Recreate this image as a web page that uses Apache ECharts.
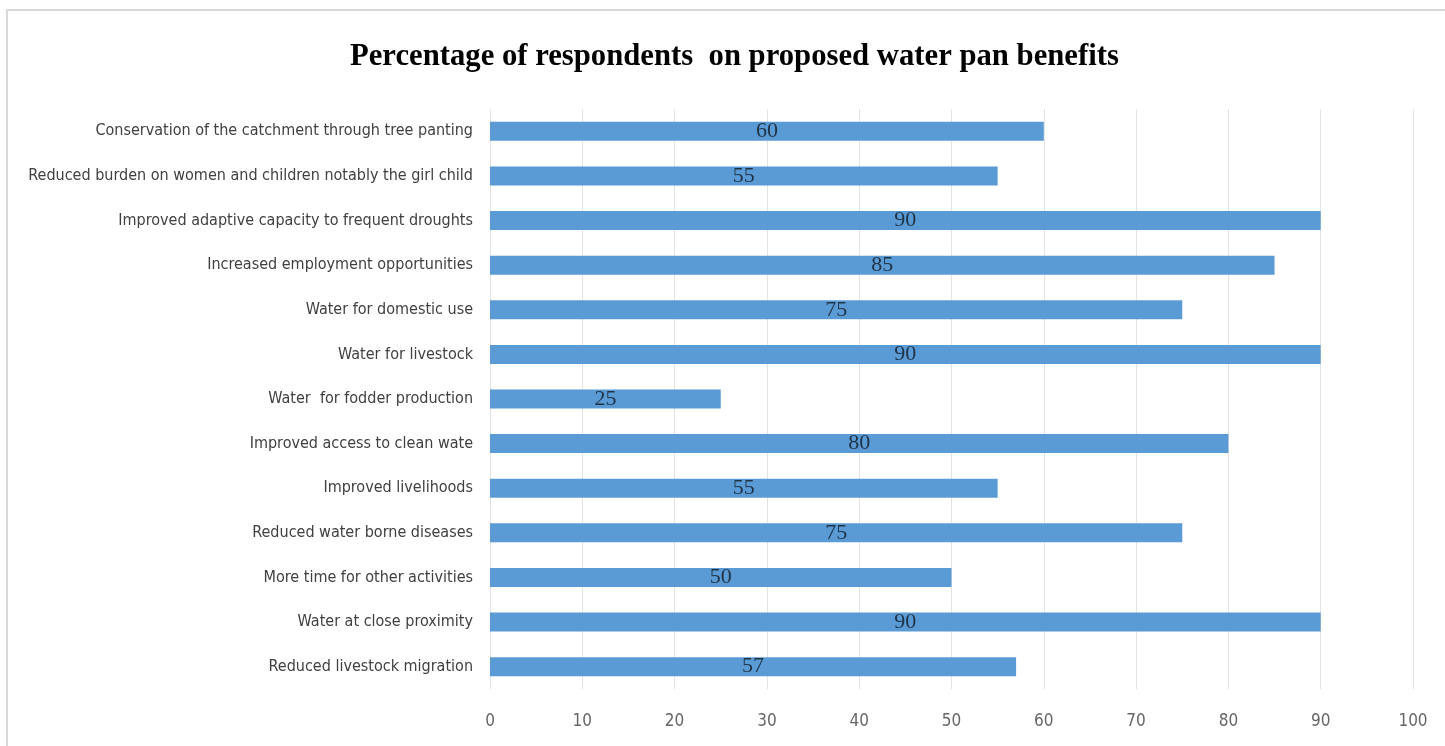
<!DOCTYPE html>
<html>
<head>
<meta charset="utf-8">
<script src="https://cdn.jsdelivr.net/npm/echarts@6/dist/echarts.min.js"></script>
<style>
html,body{margin:0;padding:0;background:#fff;}
#c{width:1445px;height:746px;}
</style>
</head>
<body>
<div id="c"></div>
<script>
const titleText = 'Percentage of respondents  on proposed water pan benefits';
const categories = [
  'Conservation of the catchment through tree panting',
  'Reduced burden on women and children notably the girl child',
  'Improved adaptive capacity to frequent droughts',
  'Increased employment opportunities',
  'Water for domestic use',
  'Water for livestock',
  'Water  for fodder production',
  'Improved access to clean wate',
  'Improved livelihoods',
  'Reduced water borne diseases',
  'More time for other activities',
  'Water at close proximity',
  'Reduced livestock migration'
];
const values = [60, 55, 90, 85, 75, 90, 25, 80, 55, 75, 50, 90, 57];
const xTicks = [0, 10, 20, 30, 40, 50, 60, 70, 80, 90, 100];

const chart = echarts.init(document.getElementById('c'));
chart.setOption({
  backgroundColor: '#ffffff',
  animation: false,
  title: {
    text: titleText,
    left: 345,
    top: 37,
    textStyle: {
      fontFamily: 'Liberation Serif',
      fontWeight: 'bold',
      fontSize: 30.7,
      color: '#000000'
    }
  },
  graphic: [{
    type: 'rect',
    shape: {x: 7, y: 10, width: 1460, height: 760},
    style: {fill: 'none', stroke: '#d9d9d9', lineWidth: 2},
    silent: true
  }],
  grid: {left: 490, right: 32, top: 109, bottom: 57, containLabel: false},
  xAxis: {
    type: 'value',
    min: xTicks[0],
    max: xTicks[xTicks.length - 1],
    interval: 10,
    axisLine: {show: false},
    axisTick: {show: false},
    splitLine: {show: true, lineStyle: {color: '#e3e3e3', width: 1}},
    axisLabel: {
      margin: 24,
      fontFamily: 'DejaVu Sans Condensed',
      fontSize: 17,
      color: '#666666'
    }
  },
  yAxis: {
    type: 'category',
    data: categories,
    inverse: true,
    axisLine: {show: false},
    axisTick: {show: false},
    axisLabel: {
      margin: 17,
      fontFamily: 'DejaVu Sans Condensed',
      fontSize: 16,
      color: '#404040'
    }
  },
  series: [{
    type: 'bar',
    data: values,
    barWidth: 19,
    itemStyle: {color: '#5b9bd5'},
    label: {
      show: true,
      position: 'inside',
      fontFamily: 'Liberation Serif',
      fontSize: 22,
      color: '#1f3347'
    }
  }]
});
</script>
</body>
</html>
